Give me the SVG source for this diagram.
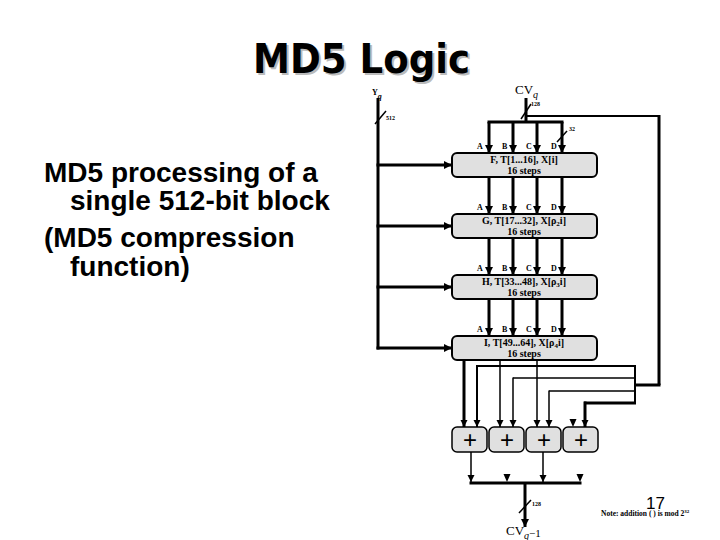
<svg xmlns="http://www.w3.org/2000/svg" width="720" height="540" viewBox="0 0 720 540">
<defs>
<marker id="ah" markerUnits="userSpaceOnUse" markerWidth="9" markerHeight="9" refX="8" refY="4" orient="auto"><path d="M0,0 L8,4 L0,8 z" fill="#000"/></marker>
<marker id="ahs" markerUnits="userSpaceOnUse" markerWidth="8" markerHeight="8" refX="7" refY="3.5" orient="auto"><path d="M0,0 L7,3.5 L0,7 z" fill="#000"/></marker>
<style>
.box{fill:#e0e0e0;stroke:#000;stroke-width:2}
.pbox{fill:#e0e0e0;stroke:#000;stroke-width:1.5}
.bt{font-family:"Liberation Serif",serif;font-weight:bold;font-size:10px;text-anchor:middle;fill:#000}
.lab{font-family:"Liberation Serif",serif;font-weight:bold;font-size:8px;fill:#000}
.sm{font-family:"Liberation Serif",serif;font-weight:bold;font-size:6px;fill:#000}
.cv{font-family:"Liberation Serif",serif;font-size:13px;fill:#000}
.plus{font-family:"Liberation Sans",sans-serif;font-size:24px;text-anchor:middle;fill:#000}
.body{font-family:"Liberation Sans",Arial,sans-serif;font-weight:bold;font-size:28px;fill:#000}
.ttl{font-family:"DejaVu Sans",sans-serif;font-weight:bold;font-size:41px}
.thick{stroke:#000;stroke-width:3;fill:none}
.med{stroke:#000;stroke-width:2;fill:none}
.thin{stroke:#000;stroke-width:1.5;fill:none}
</style>
</defs>
<rect width="720" height="540" fill="#fff"/>

<g id="title">
<text class="ttl" x="255" y="75" textLength="217" lengthAdjust="spacingAndGlyphs" fill="#bbb">MD5 Logic</text>
<text class="ttl" x="253" y="73" textLength="217" lengthAdjust="spacingAndGlyphs" fill="#000">MD5 Logic</text>
</g>

<g id="caption">
<text class="body" x="44" y="182">MD5 processing of a</text>
<text class="body" x="70" y="210">single 512-bit block</text>
<text class="body" x="44" y="247">(MD5 compression</text>
<text class="body" x="70" y="276">function)</text>
</g>

<g id="connectors">
<!-- Yq bus -->
<line class="thick" x1="378" y1="98" x2="378" y2="349.5"/>
<line class="thin" x1="375" y1="124" x2="386" y2="111"/>
<line class="thick" x1="376.5" y1="165" x2="452" y2="165" marker-end="url(#ah)"/>
<line class="thick" x1="376.5" y1="226" x2="452" y2="226" marker-end="url(#ah)"/>
<line class="thick" x1="376.5" y1="287" x2="452" y2="287" marker-end="url(#ah)"/>
<line class="thick" x1="376.5" y1="348" x2="452" y2="348" marker-end="url(#ah)"/>
<!-- CVq input -->
<line class="thick" x1="526" y1="98" x2="526" y2="122"/>
<line class="thin" x1="521" y1="119" x2="531" y2="104"/>
<line class="thick" x1="487.5" y1="122" x2="563.5" y2="122"/>
<line class="med" x1="526" y1="116" x2="660" y2="116"/>
<line class="thick" x1="659" y1="115" x2="659" y2="385"/>
<line class="thick" x1="660.5" y1="385" x2="635" y2="385"/>
<!-- columns into box1 -->
<line class="thick" x1="489" y1="122" x2="489" y2="153" marker-end="url(#ah)"/>
<line class="thick" x1="513" y1="122" x2="513" y2="153" marker-end="url(#ah)"/>
<line class="thick" x1="537" y1="122" x2="537" y2="153" marker-end="url(#ah)"/>
<line class="thick" x1="562" y1="122" x2="562" y2="153" marker-end="url(#ah)"/>
<line class="thin" x1="557" y1="142" x2="567" y2="131"/>
<!-- box1 to box2 -->
<line class="thick" x1="489" y1="177" x2="489" y2="214" marker-end="url(#ah)"/>
<line class="thick" x1="513" y1="177" x2="513" y2="214" marker-end="url(#ah)"/>
<line class="thick" x1="537" y1="177" x2="537" y2="214" marker-end="url(#ah)"/>
<line class="thick" x1="562" y1="177" x2="562" y2="214" marker-end="url(#ah)"/>
<!-- box2 to box3 -->
<line class="thick" x1="489" y1="238" x2="489" y2="275" marker-end="url(#ah)"/>
<line class="thick" x1="513" y1="238" x2="513" y2="275" marker-end="url(#ah)"/>
<line class="thick" x1="537" y1="238" x2="537" y2="275" marker-end="url(#ah)"/>
<line class="thick" x1="562" y1="238" x2="562" y2="275" marker-end="url(#ah)"/>
<!-- box3 to box4 -->
<line class="thick" x1="489" y1="299" x2="489" y2="336" marker-end="url(#ah)"/>
<line class="thick" x1="513" y1="299" x2="513" y2="336" marker-end="url(#ah)"/>
<line class="thick" x1="537" y1="299" x2="537" y2="336" marker-end="url(#ah)"/>
<line class="thick" x1="562" y1="299" x2="562" y2="336" marker-end="url(#ah)"/>
<!-- box4 outputs to adders -->
<line class="thick" x1="464" y1="360" x2="464" y2="427" marker-end="url(#ahs)"/>
<line class="thin" x1="500" y1="360" x2="500" y2="427" marker-end="url(#ahs)"/>
<line class="thin" x1="537" y1="360" x2="537" y2="427" marker-end="url(#ahs)"/>
<polygon points="569.5,419 576.5,419 573,427" fill="#000"/>
<!-- feedback lines -->
<line class="med" x1="477" y1="366" x2="636" y2="366"/>
<line class="med" x1="477" y1="365" x2="477" y2="427" marker-end="url(#ahs)"/>
<line class="thin" x1="513" y1="378" x2="636" y2="378"/>
<line class="thin" x1="513" y1="377.5" x2="513" y2="427" marker-end="url(#ahs)"/>
<line class="thin" x1="549" y1="391" x2="636" y2="391"/>
<line class="thin" x1="549" y1="390.5" x2="549" y2="427" marker-end="url(#ahs)"/>
<line class="thick" x1="584" y1="403" x2="636" y2="403"/>
<line class="thick" x1="585" y1="401.5" x2="585" y2="427" marker-end="url(#ahs)"/>
<line class="med" x1="635" y1="365" x2="635" y2="404"/>
<!-- adder outputs -->
<line class="thin" x1="471" y1="452" x2="471" y2="482" marker-end="url(#ahs)"/>
<line class="thin" x1="543" y1="452" x2="543" y2="482" marker-end="url(#ahs)"/>
<polygon points="503.5,474 510.5,474 507,482" fill="#000"/>
<polygon points="576.5,474 583.5,474 580,482" fill="#000"/>
<line class="thick" x1="469.5" y1="483" x2="581.5" y2="483"/>
<line class="thick" x1="525" y1="483" x2="525" y2="527" marker-end="url(#ah)"/>
<line class="thin" x1="519" y1="513" x2="531" y2="500"/>
</g>

<g id="labels">
<text class="lab" x="372" y="95" font-size="10">Y<tspan font-style="italic" font-size="8" dy="4">q</tspan></text>
<text class="sm" x="386" y="120">512</text>
<text class="cv" x="515" y="94">CV<tspan font-style="italic" font-size="10" dy="4">q</tspan></text>
<text class="sm" x="531" y="106">128</text>
<text class="sm" x="569" y="131">32</text>
<text class="sm" x="532" y="506">128</text>
<text class="cv" x="506" y="535">CV<tspan font-style="italic" font-size="10" dy="4">q</tspan><tspan font-size="11" dy="-2">−1</tspan></text>
<text x="646" y="509" font-family="Liberation Sans,sans-serif" font-size="17" fill="#000">17</text>
<text x="601" y="516" font-family="Liberation Serif,serif" font-weight="bold" font-size="7.5" fill="#000">Note:  addition (   ) is mod 2<tspan font-size="5" dy="-3">32</tspan></text>
</g>

<g id="box1">
<rect class="box" x="452" y="153" width="145" height="24" rx="5"/>
<text class="lab" x="477" y="149">A</text><text class="lab" x="502" y="149">B</text><text class="lab" x="526" y="149">C</text><text class="lab" x="551" y="149">D</text>
<text class="bt" x="524" y="163">F, T[1...16], X[i]</text>
<text class="bt" x="524" y="174">16 steps</text>
</g>
<g id="box2">
<rect class="box" x="452" y="214" width="145" height="24" rx="5"/>
<text class="lab" x="477" y="210">A</text><text class="lab" x="502" y="210">B</text><text class="lab" x="526" y="210">C</text><text class="lab" x="551" y="210">D</text>
<text class="bt" x="524" y="224">G, T[17...32], X[ρ<tspan font-size="7" dy="2">2</tspan><tspan dy="-2">i]</tspan></text>
<text class="bt" x="524" y="235">16 steps</text>
</g>
<g id="box3">
<rect class="box" x="452" y="275" width="145" height="24" rx="5"/>
<text class="lab" x="477" y="271">A</text><text class="lab" x="502" y="271">B</text><text class="lab" x="526" y="271">C</text><text class="lab" x="551" y="271">D</text>
<text class="bt" x="524" y="285">H, T[33...48], X[ρ<tspan font-size="7" dy="2">3</tspan><tspan dy="-2">i]</tspan></text>
<text class="bt" x="524" y="296">16 steps</text>
</g>
<g id="box4">
<rect class="box" x="452" y="336" width="145" height="24" rx="5"/>
<text class="lab" x="477" y="332">A</text><text class="lab" x="502" y="332">B</text><text class="lab" x="526" y="332">C</text><text class="lab" x="551" y="332">D</text>
<text class="bt" x="524" y="346">I, T[49...64], X[ρ<tspan font-size="7" dy="2">4</tspan><tspan dy="-2">i]</tspan></text>
<text class="bt" x="524" y="357">16 steps</text>
</g>

<g id="plus1"><rect class="pbox" x="452" y="427" width="35" height="25" rx="5"/><text class="plus" x="470" y="448">+</text></g>
<g id="plus2"><rect class="pbox" x="489" y="427" width="35" height="25" rx="5"/><text class="plus" x="507" y="448">+</text></g>
<g id="plus3"><rect class="pbox" x="526" y="427" width="35" height="25" rx="5"/><text class="plus" x="544" y="448">+</text></g>
<g id="plus4"><rect class="pbox" x="563" y="427" width="35" height="25" rx="5"/><text class="plus" x="581" y="448">+</text></g>
</svg>
